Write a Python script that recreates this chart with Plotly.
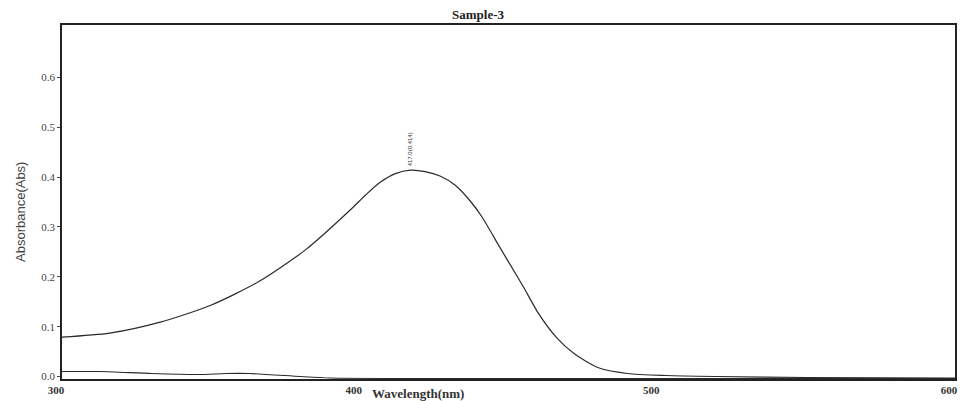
import plotly.graph_objects as go

# Main absorbance spectrum (wavelength nm, absorbance)
wavelength = [300, 316, 333, 350, 366, 382, 397, 402, 407, 412, 417, 422, 427, 432, 437, 441, 447,
              453, 455, 460, 466, 472, 480, 490, 503, 520, 550, 600]
absorbance = [0.079, 0.087, 0.109, 0.143, 0.190, 0.255, 0.335, 0.364, 0.390, 0.407, 0.414, 0.411,
              0.402, 0.384, 0.353, 0.321, 0.260, 0.200, 0.180, 0.127, 0.079, 0.046, 0.018, 0.006,
              0.002, 0.0, -0.002, -0.003]

# Lower baseline trace
base_wavelength = [300, 313, 330, 346, 355, 363, 380, 390, 420, 500, 600]
base_absorbance = [0.010, 0.010, 0.006, 0.004, 0.006, 0.006, 0.0, -0.003, -0.004, -0.004, -0.004]

peak_label = "417.0(0.414)"
peak_x = 417
peak_y = 0.414

x_ticks = [300, 400, 500, 600]
y_ticks = [0.0, 0.1, 0.2, 0.3, 0.4, 0.5, 0.6]

# The page body adds an 8px offset; margins are chosen so the frame lands where the reference has it.
W, H = 969, 401
L, R, T, B = 54, 22, 17, 30
PW, PH = W - L - R, H - T - B


def px(xf):
    return (xf - L) / PW


def py(yf):
    return (H - B - yf) / PH


fig = go.Figure()
fig.add_trace(go.Scatter(x=wavelength, y=absorbance, mode="lines",
                         line=dict(color="#2a2a2a", width=1.2, shape="spline", smoothing=0.7),
                         showlegend=False, hoverinfo="skip"))
fig.add_trace(go.Scatter(x=base_wavelength, y=base_absorbance, mode="lines",
                         line=dict(color="#2a2a2a", width=1.1, shape="spline", smoothing=0.6),
                         showlegend=False, hoverinfo="skip"))

fig.add_annotation(x=peak_x, y=peak_y, xref="x", yref="y", text=peak_label,
                   textangle=-90, showarrow=False, yanchor="bottom", yshift=2,
                   font=dict(family="Liberation Sans Narrow, Liberation Sans", size=6, color="#333"))

fig.add_annotation(x=px(410), y=py(386), xref="paper", yref="paper", text="<b>Wavelength(nm)</b>",
                   showarrow=False, xanchor="center", yanchor="middle",
                   font=dict(family="Liberation Serif", size=13, color="#333"))

fig.add_annotation(x=px(12), y=py(204), xref="paper", yref="paper",
                   text="Absorbance(Abs)", textangle=-90, showarrow=False,
                   xanchor="center", yanchor="middle",
                   font=dict(family="Liberation Sans Narrow, Liberation Sans", size=13, color="#444"))

fig.update_layout(
    width=W, height=H,
    margin=dict(l=L, r=R, t=T, b=B),
    paper_bgcolor="white", plot_bgcolor="white",
    title=dict(text="Sample-3", x=470 / W, xanchor="center", y=1 - 6 / H, yanchor="middle",
               font=dict(family="Liberation Serif", size=13, color="#222", weight="bold")),
    xaxis=dict(range=[300, 600], tickvals=x_ticks, ticktext=[str(v) for v in x_ticks],
               showgrid=False, zeroline=False, showline=True, mirror=True,
               linecolor="#222", linewidth=1.5, ticks="", ticklabelstandoff=0,
               ticklabelshift=-6,
               tickfont=dict(family="Liberation Serif", size=11, color="#333", weight="bold")),
    yaxis=dict(range=[-0.005, 0.705], tickvals=y_ticks, ticktext=[f"{v:.1f}" for v in y_ticks],
               showgrid=False, zeroline=False, showline=True, mirror=True,
               linecolor="#222", linewidth=1.5, ticks="outside", ticklen=3, tickcolor="#444",
               tickfont=dict(family="Liberation Serif", size=11, color="#444")),
)

fig.write_html("out.html")
